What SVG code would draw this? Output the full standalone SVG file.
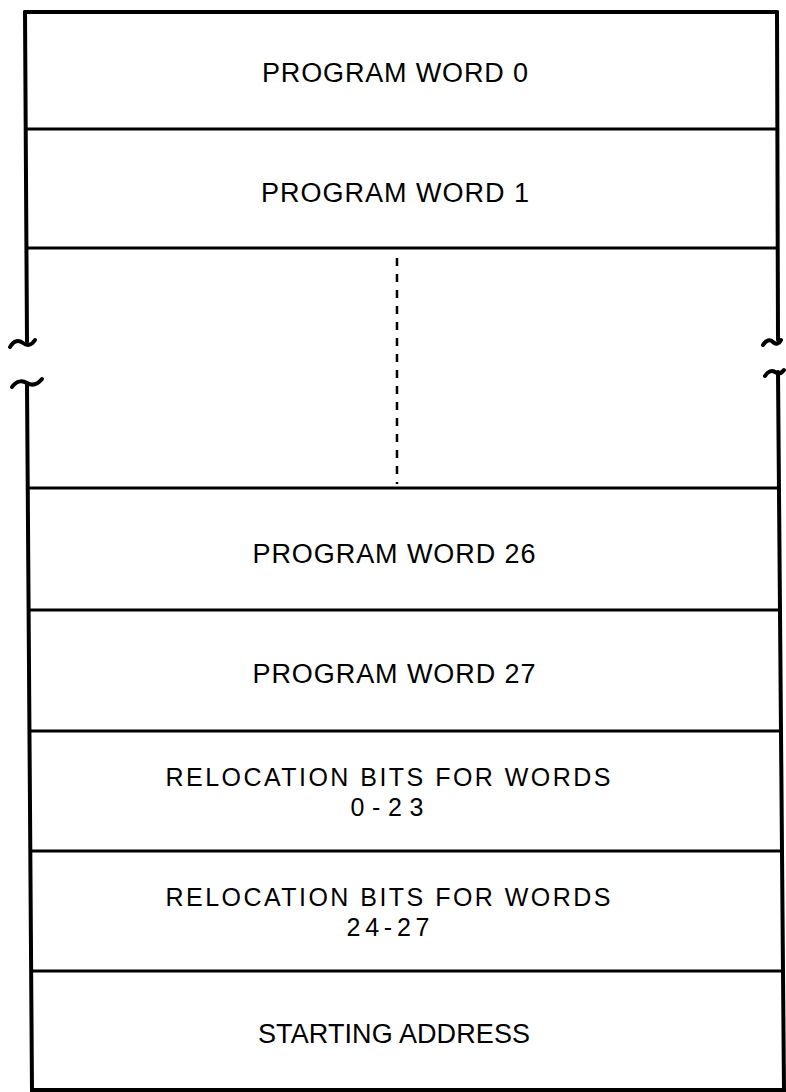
<svg xmlns="http://www.w3.org/2000/svg" width="786" height="1092" viewBox="0 0 786 1092">
<style>
.edge{stroke:#000;stroke-width:4;fill:none;stroke-linecap:round}
.sep{stroke:#000;stroke-width:3;fill:none}
.lbl{font-family:"Liberation Sans","DejaVu Sans",Arial,sans-serif;font-size:27px;fill:#000;text-anchor:middle}
.lbl2{font-family:"Liberation Sans","DejaVu Sans",Arial,sans-serif;font-size:25px;fill:#000;text-anchor:middle}
.dash{stroke:#000;stroke-width:2.5;stroke-dasharray:8 8;fill:none}
</style>
<rect width="786" height="1092" fill="#fff"/>
<g id="connectors">
<path class="edge" d="M25,12 L777,12"/>
<path class="edge" d="M25,12 L27,342"/>
<path class="edge" d="M10,347 C14,340 19,340 23,343 C27,346 31,346 35,340"/>
<path class="edge" d="M12,387 C16,381 22,380 27,383 C32,386 37,385 42,379"/>
<path class="edge" d="M27,384 L32,1091"/>
<path class="edge" d="M777,12 L778,340"/>
<path class="edge" d="M763,345 C766,340 770,339 773,342 C776,345 779,344 781,340"/>
<path class="edge" d="M765,376 C768,371 772,370 775,372 C778,374 781,374 784,370"/>
<path class="edge" d="M778,372 L784,1091"/>
<path class="edge" d="M32,1090 L784,1090"/>
<path class="dash" d="M397,258 L397,484"/>
</g>
<g id="sep-lines">
<path class="sep" d="M25,129 L778,129"/>
<path class="sep" d="M26,248 L778,248"/>
<path class="sep" d="M28,488 L779,488"/>
<path class="sep" d="M29,610 L780,610"/>
<path class="sep" d="M30,731 L781,731"/>
<path class="sep" d="M30,851 L782,851"/>
<path class="sep" d="M31,971 L783,971"/>
</g>
<g id="node-pw0"><text class="lbl" x="395" y="82" textLength="266" lengthAdjust="spacing">PROGRAM WORD 0</text></g>
<g id="node-pw1"><text class="lbl" x="395" y="202" textLength="268" lengthAdjust="spacing">PROGRAM WORD 1</text></g>
<g id="node-pw26"><text class="lbl" x="394" y="563" textLength="283" lengthAdjust="spacing">PROGRAM WORD 26</text></g>
<g id="node-pw27"><text class="lbl" x="394" y="683" textLength="283" lengthAdjust="spacing">PROGRAM WORD 27</text></g>
<g id="node-reloc1">
<text class="lbl2" x="388" y="786" textLength="445" lengthAdjust="spacing">RELOCATION BITS FOR WORDS</text>
<text class="lbl2" x="387" y="816" textLength="73" lengthAdjust="spacing">0-23</text>
</g>
<g id="node-reloc2">
<text class="lbl2" x="388" y="906" textLength="445" lengthAdjust="spacing">RELOCATION BITS FOR WORDS</text>
<text class="lbl2" x="388" y="936" textLength="83" lengthAdjust="spacing">24-27</text>
</g>
<g id="node-start"><text class="lbl" x="394" y="1043" textLength="272" lengthAdjust="spacing">STARTING ADDRESS</text></g>
</svg>
